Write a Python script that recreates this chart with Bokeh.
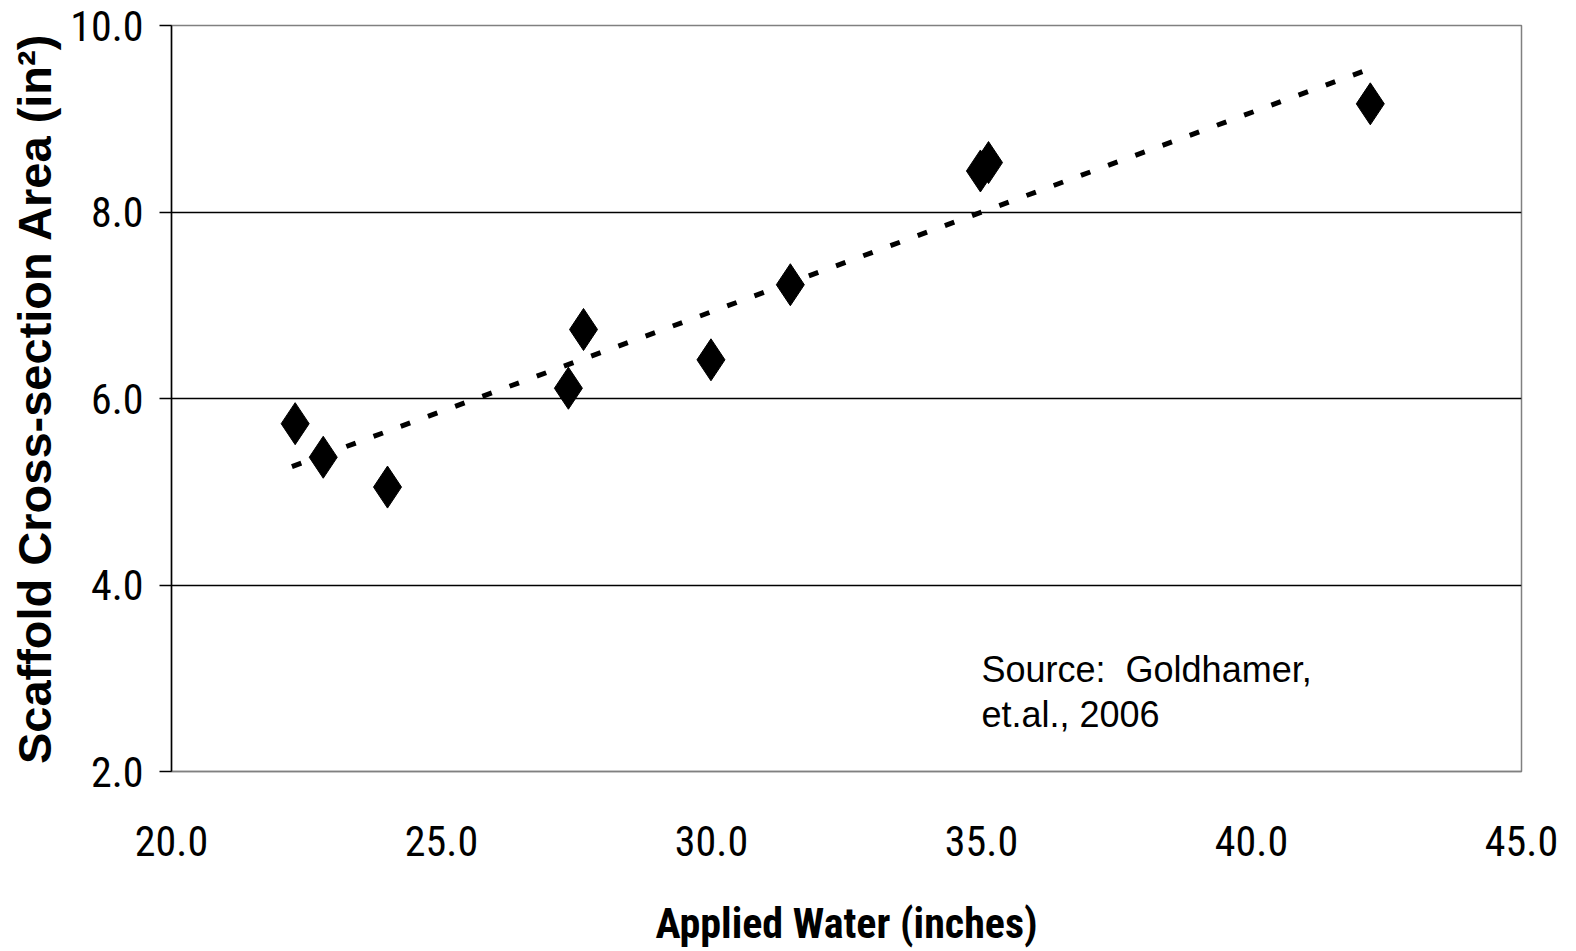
from bokeh.plotting import figure
from bokeh.models import Range1d, FixedTicker, NumeralTickFormatter, Label
from bokeh.embed import file_html
from bokeh.resources import INLINE

# Data
applied_water = [22.29, 22.81, 24.0, 27.35, 27.63, 29.99, 31.46, 34.98, 35.13, 42.2]
scaffold_area = [5.73, 5.37, 5.05, 6.11, 6.74, 6.415, 7.22, 8.44, 8.53, 9.16]

# Linear trend line end points (as drawn in the reference)
trend_x = [22.23, 42.26]
trend_y = [5.27, 9.55]

x_ticks = [20, 25, 30, 35, 40, 45]
y_ticks = [2, 4, 6, 8, 10]
grid_ticks = [4, 6, 8, 10]

source_lines = ["Source:\u00a0 Goldhamer,", "et.al., 2006"]

NARROW = "Roboto Condensed, Liberation Sans Narrow, Arial Narrow, Liberation Sans"

p = figure(width=1560, height=950, output_backend="svg", toolbar_location=None,
           x_range=Range1d(20, 45), y_range=Range1d(2, 10),
           min_border_left=171, min_border_right=39, min_border_top=25,
           min_border_bottom=178)

p.background_fill_color = "white"
p.border_fill_color = "white"
p.outline_line_color = "#808080"
p.outline_line_width = 1.5

# grids
p.xgrid.visible = False
p.ygrid.ticker = FixedTicker(ticks=grid_ticks)
p.ygrid.grid_line_color = "black"
p.ygrid.grid_line_width = 1.5

# x axis
xa = p.xaxis[0]
xa.ticker = FixedTicker(ticks=x_ticks)
xa.formatter = NumeralTickFormatter(format="0.0")
xa.axis_line_color = "#808080"
xa.axis_line_width = 1.5
xa.major_tick_line_color = None
xa.minor_tick_line_color = None
xa.major_tick_out = 0
xa.major_tick_in = 0
xa.major_label_standoff = 54
xa.major_label_text_font = NARROW
xa.major_label_text_font_size = "42px"
xa.major_label_text_color = "black"
xa.axis_label = "Applied Water (inches)"
xa.axis_label_text_font = NARROW
xa.axis_label_text_font_size = "42px"
xa.axis_label_text_font_style = "bold"
xa.axis_label_text_color = "black"
xa.axis_label_standoff = 40

# y axis
ya = p.yaxis[0]
ya.ticker = FixedTicker(ticks=y_ticks)
ya.formatter = NumeralTickFormatter(format="0.0")
ya.axis_line_color = "black"
ya.axis_line_width = 1.5
ya.major_tick_line_color = "black"
ya.major_tick_line_width = 1.5
ya.major_tick_out = 12
ya.major_tick_in = 0
ya.minor_tick_line_color = None
ya.major_label_standoff = 16
ya.major_label_text_font = NARROW
ya.major_label_text_font_size = "42px"
ya.major_label_text_color = "black"
ya.axis_label = "Scaffold Cross-section Area (in\u00b2)"
ya.axis_label_text_font = "Liberation Sans"
ya.axis_label_text_font_size = "47px"
ya.axis_label_text_font_style = "bold"
ya.axis_label_text_color = "black"
ya.axis_label_standoff = 6

# trend line
p.line(trend_x, trend_y, line_color="black", line_width=5, line_dash="10 19")

# data points
p.scatter(applied_water, scaffold_area, marker="diamond", size=42,
          fill_color="black", line_color="black")

# source annotation
for txt, yv in zip(source_lines, [3.09, 2.61]):
    p.add_layout(Label(x=35.0, y=yv, text=txt, text_font="Liberation Sans",
                       text_font_size="36px", text_color="black",
                       text_baseline="alphabetic", text_align="left"))

open("out.html", "w").write(file_html(p, INLINE))
